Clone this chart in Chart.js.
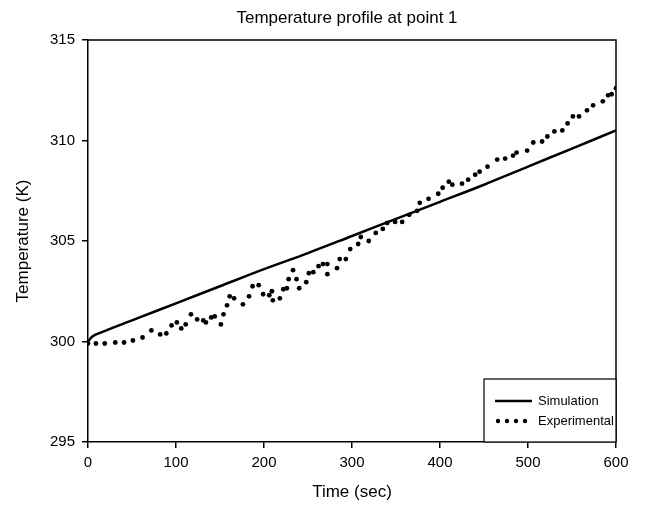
<!DOCTYPE html>
<html>
<head>
<meta charset="utf-8">
<script src="https://cdn.jsdelivr.net/npm/chart.js@4.4.1/dist/chart.umd.min.js"></script>
<style>
  html, body { margin: 0; padding: 0; background: #fff; }
  canvas { display: block; }
</style>
</head>
<body>
<canvas id="chart" width="668" height="508"></canvas>
<script>
// simulation curve (sec, K)
const simTimes = [0, 5, 15, 50, 100, 150, 200, 250, 300, 350, 400, 450, 500, 550, 600];
const simTemps = [300.0, 300.25, 300.45, 301.05, 301.9, 302.75, 303.6, 304.4, 305.25, 306.1, 306.95, 307.8, 308.7, 309.6, 310.5];

// experimental readings (sec, K)
const expTimes = [0, 9, 19, 31, 41, 51, 62, 72, 82, 89, 95, 101, 106, 111, 117, 124, 131, 134, 140, 144,
  151, 154, 158, 161, 166, 176, 183, 187, 194, 199, 206, 209, 210, 218, 222, 226, 228, 233, 237, 240,
  248, 251, 256, 262, 267, 272, 272, 283, 286, 293, 298, 307, 310, 319, 327, 335, 340, 349, 357, 365,
  374, 377, 387, 398, 403, 410, 414, 425, 432, 440, 445, 454, 465, 474, 483, 487, 499, 506, 516, 522,
  530, 539, 545, 551, 558, 567, 574, 585, 591, 595, 600];
const expTemps = [299.9, 299.9, 299.9, 299.95, 299.95, 300.05, 300.2, 300.55, 300.35, 300.4, 300.8, 300.95, 300.65, 300.85, 301.35, 301.1, 301.05, 300.95, 301.2, 301.25,
  300.85, 301.35, 301.8, 302.25, 302.15, 301.85, 302.25, 302.75, 302.8, 302.35, 302.3, 302.5, 302.05, 302.15, 302.6, 302.65, 303.1, 303.55, 303.1, 302.65,
  302.95, 303.4, 303.45, 303.75, 303.85, 303.85, 303.35, 303.65, 304.1, 304.1, 304.6, 304.85, 305.2, 305.0, 305.4, 305.6, 305.9, 305.95, 305.95, 306.3,
  306.5, 306.9, 307.1, 307.35, 307.65, 307.95, 307.8, 307.85, 308.05, 308.3, 308.45, 308.7, 309.05, 309.1, 309.25, 309.4, 309.5, 309.9, 309.95, 310.2,
  310.45, 310.5, 310.85, 311.2, 311.2, 311.5, 311.75, 311.95, 312.25, 312.3, 312.6];

const xTicks = [0, 100, 200, 300, 400, 500, 600];
const yTicks = [295, 300, 305, 310, 315];

const FONT = "'Liberation Sans', Arial, sans-serif";

const toPoints = (xs, ys) => xs.map((x, i) => ({ x: x, y: ys[i] }));

// title, frame and legend box
const decorations = {
  id: 'decorations',
  afterDraw(chart) {
    const ctx = chart.ctx;
    const a = chart.chartArea;
    ctx.save();
    ctx.fillStyle = '#000';
    ctx.strokeStyle = '#000';

    ctx.font = '17px ' + FONT;
    ctx.textAlign = 'center';
    ctx.textBaseline = 'middle';
    ctx.fillText('Temperature profile at point 1', 347, 18);

    ctx.lineWidth = 1.5;
    ctx.beginPath();
    ctx.moveTo(a.left, a.top);
    ctx.lineTo(a.right, a.top);
    ctx.lineTo(a.right, a.bottom);
    ctx.stroke();

    // legend
    const lx = 484, ly = 379, lw = a.right - lx, lh = a.bottom - ly;
    ctx.fillStyle = '#fff';
    ctx.fillRect(lx, ly, lw, lh);
    ctx.lineWidth = 1.2;
    ctx.strokeRect(lx, ly, lw, lh);
    ctx.fillStyle = '#000';
    ctx.lineWidth = 2.5;
    ctx.beginPath();
    ctx.moveTo(495, 401);
    ctx.lineTo(532, 401);
    ctx.stroke();
    [498, 507, 516, 525].forEach(x => {
      ctx.beginPath();
      ctx.arc(x, 421, 2.2, 0, Math.PI * 2);
      ctx.fill();
    });
    ctx.font = '13px ' + FONT;
    ctx.textAlign = 'left';
    ctx.fillText('Simulation', 538, 401);
    ctx.fillText('Experimental', 538, 421);
    ctx.restore();
  }
};

new Chart(document.getElementById('chart'), {
  type: 'scatter',
  data: {
    datasets: [
      {
        label: 'Simulation',
        data: toPoints(simTimes, simTemps),
        showLine: true,
        borderColor: '#000',
        borderWidth: 2.5,
        pointRadius: 0,
        cubicInterpolationMode: 'monotone'
      },
      {
        label: 'Experimental',
        data: toPoints(expTimes, expTemps),
        showLine: false,
        backgroundColor: '#000',
        borderColor: '#000',
        borderWidth: 0,
        pointRadius: 2.4
      }
    ]
  },
  options: {
    responsive: false,
    animation: false,
    layout: { padding: { top: 40, right: 52, left: 0, bottom: 0 } },
    plugins: {
      legend: { display: false },
      title: { display: false },
      tooltip: { enabled: false }
    },
    scales: {
      x: {
        type: 'linear',
        min: 0,
        max: 600,
        afterBuildTicks: s => { s.ticks = xTicks.map(v => ({ value: v })); },
        afterFit: s => { s.height = 66; },
        ticks: { color: '#000', font: { family: FONT, size: 15 }, padding: 6, maxRotation: 0 },
        grid: { drawOnChartArea: false, drawTicks: true, tickLength: 6, color: '#000', lineWidth: 1.5 },
        border: { display: true, color: '#000', width: 1.5 },
        title: { display: true, text: 'Time (sec)', color: '#000', font: { family: FONT, size: 17 }, padding: { top: 0, bottom: 5 } }
      },
      y: {
        type: 'linear',
        min: 295,
        max: 315,
        afterBuildTicks: s => { s.ticks = yTicks.map(v => ({ value: v })); },
        afterFit: s => { s.width = 88; },
        ticks: { color: '#000', font: { family: FONT, size: 15 }, padding: 7 },
        grid: { drawOnChartArea: false, drawTicks: true, tickLength: 6, color: '#000', lineWidth: 1.5 },
        border: { display: true, color: '#000', width: 1.5 },
        title: { display: true, text: 'Temperature (K)', color: '#000', font: { family: FONT, size: 17 }, padding: { top: 13, bottom: 0 } }
      }
    }
  },
  plugins: [decorations]
});
</script>
</body>
</html>
